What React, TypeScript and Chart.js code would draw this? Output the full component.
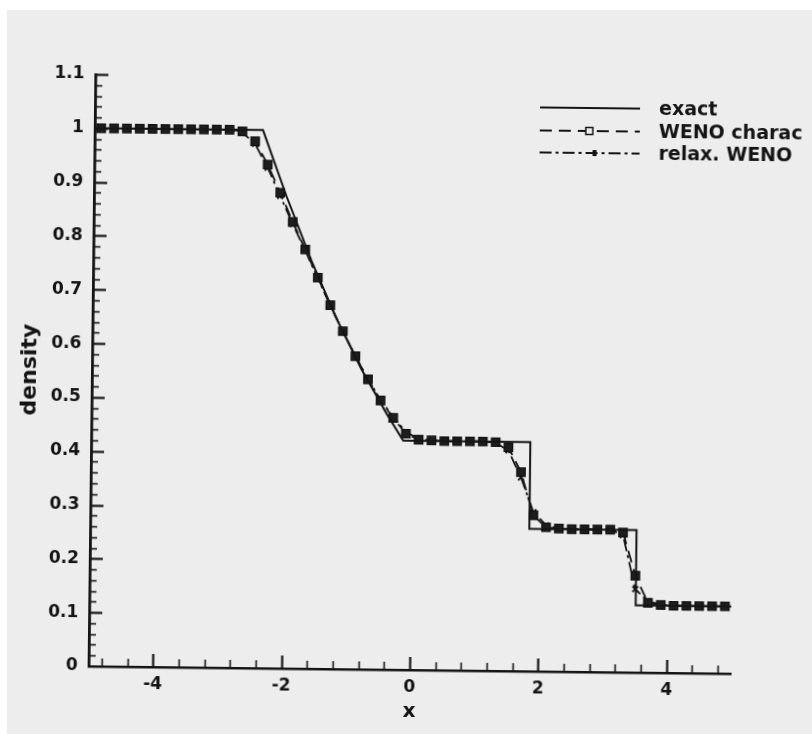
import React, { useEffect, useRef } from 'react';
import { Chart, registerables } from 'chart.js';

Chart.register(...registerables);

// ---- data ----
const xGrid = [
  -4.9, -4.7, -4.5, -4.3, -4.1, -3.9, -3.7, -3.5, -3.3, -3.1,
  -2.9, -2.7, -2.5, -2.3, -2.1, -1.9, -1.7, -1.5, -1.3, -1.1,
  -0.9, -0.7, -0.5, -0.3, -0.1, 0.1, 0.3, 0.5, 0.7, 0.9,
  1.1, 1.3, 1.5, 1.7, 1.9, 2.1, 2.3, 2.5, 2.7, 2.9,
  3.1, 3.3, 3.5, 3.7, 3.9, 4.1, 4.3, 4.5, 4.7, 4.9,
];

const wenoCharac = [
  1.0, 1.0, 1.0, 1.0, 1.0, 1.0, 1.0, 1.0, 1.0, 1.0,
  1.0, 0.997, 0.979, 0.936, 0.884, 0.83, 0.779, 0.727, 0.676, 0.628,
  0.582, 0.539, 0.5, 0.468, 0.439, 0.428, 0.427, 0.426, 0.426, 0.426,
  0.426, 0.425, 0.416, 0.37, 0.29, 0.268, 0.266, 0.265, 0.265, 0.265,
  0.265, 0.26, 0.18, 0.13, 0.126, 0.125, 0.125, 0.125, 0.125, 0.125,
];

const relaxWeno = [
  1.0, 1.0, 1.0, 1.0, 1.0, 1.0, 1.0, 1.0, 1.0, 1.0,
  1.0, 0.995, 0.974, 0.93, 0.878, 0.826, 0.777, 0.726, 0.675, 0.628,
  0.582, 0.539, 0.501, 0.47, 0.442, 0.43, 0.427, 0.426, 0.426, 0.426,
  0.426, 0.424, 0.41, 0.36, 0.296, 0.272, 0.266, 0.265, 0.265, 0.265,
  0.265, 0.255, 0.155, 0.133, 0.127, 0.125, 0.125, 0.125, 0.125, 0.125,
];

const exactX = [-5, -2.38, -2.0, -1.6, -1.2, -0.8, -0.4, -0.14, 1.84, 1.84, 3.51, 3.51, 5];
const exactRho = [1.0, 1.0, 0.877, 0.758, 0.651, 0.557, 0.475, 0.426, 0.426, 0.265, 0.265, 0.125, 0.125];

const xTickValues = [-4, -2, 0, 2, 4];
const xTickLabels = ['-4', '-2', '0', '2', '4'];
const yTickValues = [0, 0.1, 0.2, 0.3, 0.4, 0.5, 0.6, 0.7, 0.8, 0.9, 1.0, 1.1];
const yTickLabels = ['0', '0.1', '0.2', '0.3', '0.4', '0.5', '0.6', '0.7', '0.8', '0.9', '1', '1.1'];

const seriesLabels = ['exact', 'WENO charac', 'relax. WENO'];
const xTitle = 'x';
const yTitle = 'density';

// ---- styles ----
const INK = '#141414';
const PAPER = '#ededed';
const FONT = "'DejaVu Sans', sans-serif";

const inwardTicks = {
  id: 'inwardTicks',
  afterDatasetsDraw(chart: any) {
    const { ctx, chartArea, scales } = chart;
    const xs = scales.x;
    const ys = scales.y;
    ctx.save();
    ctx.strokeStyle = INK;
    ctx.lineCap = 'butt';
    for (let i = 0; i <= 24; i++) {
      const v = -4.8 + i * 0.4;
      const major = i % 5 === 2;
      const px = Math.round(xs.getPixelForValue(v)) + 0.5;
      ctx.lineWidth = major ? 2.2 : 1.6;
      ctx.beginPath();
      ctx.moveTo(px, chartArea.bottom);
      ctx.lineTo(px, chartArea.bottom - (major ? 13 : 8));
      ctx.stroke();
    }
    for (let i = 1; i <= 55; i++) {
      const v = i * 0.02;
      const major = i % 5 === 0;
      const py = Math.round(ys.getPixelForValue(v)) + 0.5;
      ctx.lineWidth = major ? 2.2 : 1.6;
      ctx.beginPath();
      ctx.moveTo(chartArea.left, py);
      ctx.lineTo(chartArea.left + (major ? 13 : 7), py);
      ctx.stroke();
    }
    ctx.restore();
  },
};

const sketchLegend = {
  id: 'sketchLegend',
  afterDraw(chart: any) {
    const { ctx } = chart;
    const ds = chart.data.datasets;
    const x0 = 537;
    const x1 = 637;
    const tx = 656;
    const rows = [106, 129, 151];
    ctx.save();
    ds.forEach((d: any, i: number) => {
      const y = rows[i];
      ctx.strokeStyle = INK;
      ctx.lineWidth = 2;
      ctx.setLineDash(d.borderDash || []);
      ctx.beginPath();
      ctx.moveTo(x0, y);
      ctx.lineTo(x1, y);
      ctx.stroke();
      ctx.setLineDash([]);
      if (i === 1) {
        ctx.fillStyle = PAPER;
        ctx.fillRect(583, y - 3.5, 7, 7);
        ctx.lineWidth = 1.5;
        ctx.strokeRect(583, y - 3.5, 7, 7);
      }
      if (i === 2) {
        ctx.fillStyle = INK;
        ctx.fillRect(590, y - 3, 4, 6);
      }
      ctx.fillStyle = INK;
      ctx.font = `bold 19px ${FONT}`;
      ctx.textBaseline = 'middle';
      ctx.textAlign = 'left';
      ctx.fillText(d.label, tx, y + 1);
    });
    ctx.restore();
  },
};

export default function App() {
  const canvasRef = useRef<HTMLCanvasElement | null>(null);

  useEffect(() => {
    const canvas = canvasRef.current;
    if (!canvas) return;
    const chart = new Chart(canvas, {
      type: 'line',
      data: {
        datasets: [
          {
            label: seriesLabels[0],
            data: exactX.map((x, i) => ({ x, y: exactRho[i] })),
            borderColor: INK,
            borderWidth: 2,
            pointRadius: 0,
            tension: 0,
            fill: false,
          },
          {
            label: seriesLabels[1],
            data: xGrid.map((x, i) => ({ x, y: wenoCharac[i] })),
            borderColor: INK,
            borderWidth: 1.8,
            borderDash: [12, 7],
            pointStyle: 'rect',
            pointRadius: 5.8,
            pointBorderWidth: 1.5,
            pointBorderColor: INK,
            pointBackgroundColor: '#1e1e1e',
            tension: 0,
            fill: false,
          },
          {
            label: seriesLabels[2],
            data: xGrid.map((x, i) => ({ x, y: relaxWeno[i] })),
            borderColor: INK,
            borderWidth: 1.8,
            borderDash: [12, 4, 3, 4],
            pointStyle: 'crossRot',
            pointRadius: 4,
            pointBorderWidth: 1.8,
            pointBorderColor: INK,
            tension: 0,
            fill: false,
          },
        ],
      },
      options: {
        responsive: false,
        animation: false,
        devicePixelRatio: 1,
        layout: { padding: { left: 0, right: 78, top: 78, bottom: 0 } },
        plugins: {
          legend: { display: false },
          tooltip: { enabled: false },
        },
        scales: {
          x: {
            type: 'linear',
            min: -5,
            max: 5,
            afterBuildTicks: (s: any) => {
              s.ticks = xTickValues.map((v) => ({ value: v }));
            },
            afterFit: (s: any) => {
              s.height = 64;
            },
            ticks: {
              autoSkip: false,
              maxRotation: 0,
              padding: 7,
              color: INK,
              font: { family: FONT, size: 17, weight: 'bold' },
              callback: (v: any) => {
                const k = xTickValues.indexOf(Number(v));
                return k >= 0 ? xTickLabels[k] : '';
              },
            },
            grid: { display: false, drawTicks: false },
            border: { display: true, color: INK, width: 2.6 },
            title: {
              display: true,
              text: xTitle,
              color: INK,
              font: { family: FONT, size: 20, weight: 'bold' },
              padding: { top: 0, bottom: 10 },
            },
          },
          y: {
            type: 'linear',
            min: 0,
            max: 1.1,
            afterBuildTicks: (s: any) => {
              s.ticks = yTickValues.map((v) => ({ value: v }));
            },
            afterFit: (s: any) => {
              s.width = 92;
            },
            ticks: {
              autoSkip: false,
              padding: 11,
              color: INK,
              font: { family: FONT, size: 17, weight: 'bold' },
              callback: (v: any) => {
                const k = yTickValues.findIndex((t) => Math.abs(t - Number(v)) < 1e-9);
                return k >= 0 ? yTickLabels[k] : '';
              },
            },
            grid: { display: false, drawTicks: false },
            border: { display: true, color: INK, width: 2.8 },
            title: {
              display: true,
              text: yTitle,
              color: INK,
              font: { family: FONT, size: 22, weight: 'bold' },
              padding: { top: 17, bottom: 0 },
            },
          },
        },
      },
      plugins: [inwardTicks, sketchLegend],
    } as any);
    return () => {
      chart.destroy();
    };
  }, []);

  return (
    <div
      style={{
        position: 'absolute',
        left: 0,
        top: 0,
        width: 812,
        height: 734,
        overflow: 'hidden',
        background: '#ffffff',
      }}
    >
      <div
        style={{
          position: 'absolute',
          left: 7,
          top: 10,
          width: 805,
          height: 724,
          background: PAPER,
        }}
      />
      <canvas
        ref={canvasRef}
        width={812}
        height={734}
        style={{
          position: 'absolute',
          left: 0,
          top: 0,
          width: 812,
          height: 734,
          transform: 'rotate(0.66deg)',
          transformOrigin: '412.5px 374px',
        }}
      />
    </div>
  );
}
